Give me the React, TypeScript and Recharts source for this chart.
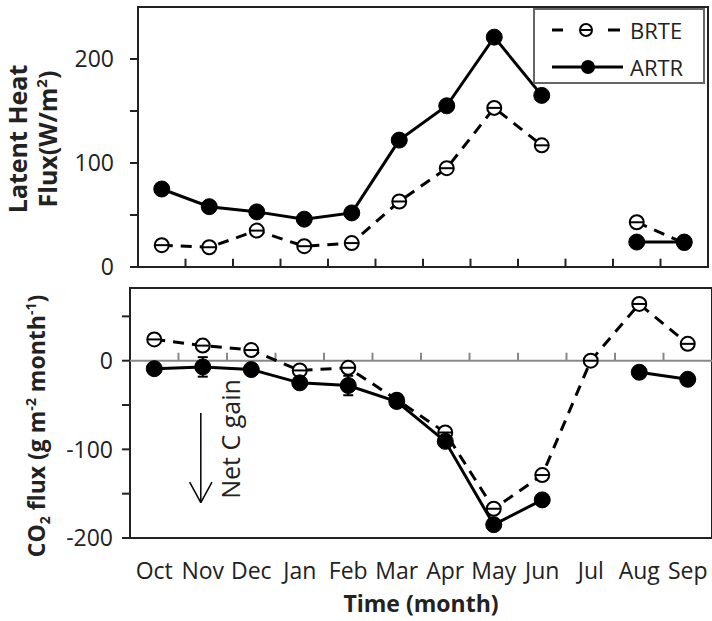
import React from 'react';
import { LineChart, Line, XAxis, YAxis, ReferenceArea, ReferenceLine, Legend, ErrorBar } from 'recharts';

const months = ['Oct', 'Nov', 'Dec', 'Jan', 'Feb', 'Mar', 'Apr', 'May', 'Jun', 'Jul', 'Aug', 'Sep'];
const latentBRTE = [21, 19, 35, 20, 23, 63, 95, 153, 117, null, 43, 23];
const latentARTR = [75, 58, 53, 46, 52, 122, 155, 221, 165, null, 24, 24];
const co2BRTE = [24, 17, 12, -11, -8, -44, -81, -167, -129, 0, 64, 19];
const co2ARTR = [-9, -7, -10, -25, -28, -46, -91, -185, -157, null, -13, -21];
const co2ARTRErr = [0, 11, 0, 0, 11, 0, 0, 0, 0, null, 0, 0];
const latentTicks = [0, 50, 100, 150, 200];
const latentTickLabels = [0, 100, 200];
const co2Ticks = [-200, -150, -100, -50, 0, 50];
const co2TickLabels = [-200, -100, 0];
const seriesNames = ['BRTE', 'ARTR'];

const FONT = "'Open Sans', sans-serif";
const INK = '#222';

const topData = months.map((m, i) => ({ x: i + 0.5, month: m, BRTE: latentBRTE[i], ARTR: latentARTR[i] }));
const botData = months.map((m, i) => ({ x: i + 0.5, month: m, BRTE: co2BRTE[i], ARTR: co2ARTR[i], err: co2ARTRErr[i] }));
const centers = months.map((_, i) => i + 0.5);
const bounds = months.slice(1).map((_, i) => i + 1);

const OpenDot = (props: any) => {
  const { cx, cy } = props;
  if (cx == null || cy == null || isNaN(cy)) return <g />;
  return (
    <g>
      <circle cx={cx} cy={cy} r={7} fill="#fff" stroke="#000" strokeWidth={2} />
      <line x1={cx - 7} x2={cx + 7} y1={cy} y2={cy} stroke="#000" strokeWidth={2} />
    </g>
  );
};

const FilledDot = (props: any) => {
  const { cx, cy } = props;
  if (cx == null || cy == null || isNaN(cy)) return <g />;
  return <circle cx={cx} cy={cy} r={8} fill="#000" stroke="#000" strokeWidth={1} />;
};

const TopYLabel = (props: any) => {
  const vb = props.viewBox || { x: 0, y: 0, width: 0, height: 0 };
  const cy = vb.y + vb.height / 2 + 2;
  return (
    <g fontFamily={FONT} fontWeight="bold" fontSize={25} fill={INK}>
      <text transform={`translate(${vb.x + 27},${cy}) rotate(-90)`} textAnchor="middle">Latent Heat</text>
      <text transform={`translate(${vb.x + 57},${cy}) rotate(-90)`} textAnchor="middle">
        Flux(W/m<tspan fontSize={15} dy={-10}>2</tspan><tspan dy={10}>)</tspan>
      </text>
    </g>
  );
};

const BotYLabel = (props: any) => {
  const vb = props.viewBox || { x: 0, y: 0, width: 0, height: 0 };
  const cy = vb.y + vb.height / 2 + 13;
  return (
    <text transform={`translate(${vb.x + 45},${cy}) rotate(-90)`} textAnchor="middle" fontFamily={FONT} fontWeight="bold" fontSize={23} fill={INK}>
      CO<tspan fontSize={14} dy={5}>2</tspan><tspan dy={-5}> flux (g m</tspan><tspan fontSize={14} dy={-9}>-2</tspan><tspan dy={9}> month</tspan><tspan fontSize={14} dy={-9}>-1</tspan><tspan dy={9}>)</tspan>
    </text>
  );
};

const XTitle = (props: any) => {
  const vb = props.viewBox || { x: 0, y: 0, width: 0, height: 0 };
  return (
    <text x={vb.x + vb.width / 2} y={vb.y + 74} textAnchor="middle" fontFamily={FONT} fontWeight="bold" fontSize={23} fill={INK}>
      Time (month)
    </text>
  );
};

const NetLabel = (props: any) => {
  const vb = props.viewBox || { x: 0, y: 0, width: 0, height: 0 };
  const cy = vb.y + 26;
  return (
    <text transform={`translate(${vb.x + 39},${cy}) rotate(-90)`} textAnchor="middle" fontFamily={FONT} fontSize={25} fill={INK}>
      Net C gain
    </text>
  );
};

const LegendBox = () => (
  <div style={{ width: 172, height: 76, border: '2px solid #666', boxSizing: 'border-box', background: '#fff', position: 'relative', fontFamily: FONT, fontSize: 22, color: INK }}>
    {seriesNames.map((name, i) => (
      <div key={name} style={{ position: 'absolute', left: 0, top: i === 0 ? 4 : 41, height: 32, width: 170, display: 'flex', alignItems: 'center' }}>
        <svg width={95} height={32} style={{ display: 'block' }}>
          {name === 'BRTE' ? (
            <g>
              <line x1={17} x2={28} y1={16} y2={16} stroke="#000" strokeWidth={3} />
              <circle cx={51} cy={16} r={6} fill="#fff" stroke="#000" strokeWidth={2} />
              <line x1={45} x2={57} y1={16} y2={16} stroke="#000" strokeWidth={2} />
              <line x1={73} x2={85} y1={16} y2={16} stroke="#000" strokeWidth={3} />
            </g>
          ) : (
            <g>
              <line x1={17} x2={88} y1={16} y2={16} stroke="#000" strokeWidth={3} />
              <circle cx={53} cy={16} r={7} fill="#000" />
            </g>
          )}
        </svg>
        <span style={{ lineHeight: '32px' }}>{name}</span>
      </div>
    ))}
  </div>
);

const tickStyle = { fontSize: 23, fill: INK, fontFamily: FONT };

export default function App() {
  return (
    <div style={{ position: 'absolute', left: 0, top: 0, width: 712, height: 621, background: '#fff' }}>
      <div style={{ position: 'absolute', left: 0, top: 0 }}>
        <LineChart width={712} height={290} data={topData} margin={{ top: 7, right: 4, bottom: 23, left: 0 }}>
          <XAxis dataKey="x" type="number" domain={[0, 12]} hide allowDataOverflow />
          <YAxis type="number" domain={[0, 250]} ticks={latentTicks} interval={0} width={138} tickSize={8} tickMargin={16}
            tickFormatter={(v: number) => (latentTickLabels.includes(v) ? String(v) : '')} tick={tickStyle}
            axisLine={false} tickLine={{ stroke: INK, strokeWidth: 2 }} label={{ content: TopYLabel }} allowDataOverflow />
          {bounds.map((b) => (
            <ReferenceLine key={'t' + b} segment={[{ x: b, y: 0 }, { x: b, y: 8 }]} stroke={INK} strokeWidth={2} />
          ))}
          <ReferenceArea x1={0} x2={12} y1={0} y2={250} fill="none" stroke={INK} strokeWidth={2} ifOverflow="visible" />
          <Line dataKey="BRTE" name="BRTE" stroke="#000" strokeWidth={3} strokeDasharray="11 8" dot={<OpenDot />} activeDot={false} isAnimationActive={false} connectNulls={false} />
          <Line dataKey="ARTR" name="ARTR" stroke="#000" strokeWidth={3} dot={<FilledDot />} activeDot={false} isAnimationActive={false} connectNulls={false} />
          <Legend layout="horizontal" align="center" verticalAlign="middle" content={<LegendBox />}
            wrapperStyle={{ left: 533, top: 8, width: 172, height: 76 }} />
        </LineChart>
      </div>
      <div style={{ position: 'absolute', left: 0, top: 275 }}>
        <LineChart width={712} height={346} data={botData} margin={{ top: 13, right: 0, bottom: 0, left: 0 }}>
          <XAxis dataKey="x" type="number" domain={[0, 12]} ticks={centers} interval={0} tickLine={false} tickSize={6} tickMargin={19}
            tickFormatter={(v: number) => months[Math.floor(v)]} tick={tickStyle} height={83} axisLine={false}
            label={{ content: XTitle }} allowDataOverflow />
          <YAxis type="number" domain={[-200, 82]} ticks={co2Ticks} interval={0} width={130} tickSize={8} tickMargin={9}
            tickFormatter={(v: number) => (co2TickLabels.includes(v) ? String(v) : '')} tick={tickStyle}
            axisLine={false} tickLine={{ stroke: INK, strokeWidth: 2 }} label={{ content: BotYLabel }} allowDataOverflow />
          <ReferenceLine y={0} stroke="#888" strokeWidth={2} />
          {bounds.map((b) => (
            <ReferenceLine key={'b' + b} segment={[{ x: b, y: 0 }, { x: b, y: 9 }]} stroke="#888" strokeWidth={2} />
          ))}
          <ReferenceLine segment={[{ x: 1.46, y: -59 }, { x: 1.46, y: -160 }]} stroke="#000" strokeWidth={1.5} label={{ content: NetLabel }} />
          <ReferenceLine segment={[{ x: 1.46, y: -160 }, { x: 1.23, y: -137 }]} stroke="#000" strokeWidth={1.5} />
          <ReferenceLine segment={[{ x: 1.46, y: -160 }, { x: 1.69, y: -137 }]} stroke="#000" strokeWidth={1.5} />
          <ReferenceArea x1={0} x2={12} y1={-200} y2={82} fill="none" stroke={INK} strokeWidth={2} ifOverflow="visible" />
          <Line dataKey="BRTE" name="BRTE" stroke="#000" strokeWidth={3} strokeDasharray="11 8" dot={<OpenDot />} activeDot={false} isAnimationActive={false} connectNulls={false} />
          <Line dataKey="ARTR" name="ARTR" stroke="#000" strokeWidth={3} dot={<FilledDot />} activeDot={false} isAnimationActive={false} connectNulls={false}>
            <ErrorBar dataKey="err" width={5} stroke="#000" strokeWidth={2} direction="y" />
          </Line>
        </LineChart>
      </div>
    </div>
  );
}
